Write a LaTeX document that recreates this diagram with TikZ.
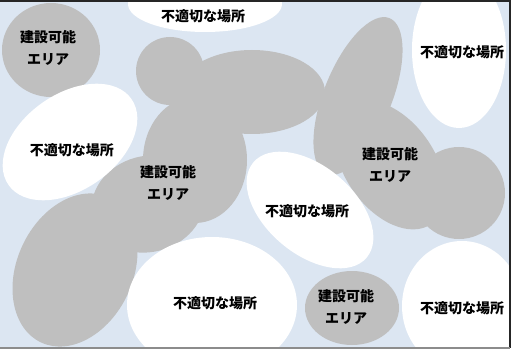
\documentclass[tikz,border=0pt]{standalone}
\usepackage{fontspec}
\newfontfamily\jpfont{Noto Sans CJK JP}
\usetikzlibrary{positioning}
\definecolor{sitecolor}{RGB}{220,230,242}
\definecolor{okcolor}{RGB}{191,191,191}
\tikzset{
    ok area/.style={fill=okcolor},
    ng area/.style={fill=white},
    frame line/.style={line width=1.6pt, black!85},
    area label/.style={font=\jpfont\bfseries\fontsize{14}{22}\selectfont, align=center, inner sep=0pt}
}

\begin{document}
\begin{tikzpicture}[x=1pt, y=-1pt]
    \useasboundingbox (0,0) rectangle (517,350);

    % Site background
    \fill[sitecolor] (0,0) rectangle (510,349);

    \begin{scope}
        \clip (0,0) rectangle (510,349);

        % Buildable areas - gray blobs
        \fill[ok area] (51,50) ellipse (49 and 47);
        \fill[ok area] (170,71) circle (34);
        \fill[ok area] (252,92) ellipse (73 and 42);
        \fill[ok area] (195,160) ellipse (52 and 63);
        \fill[ok area, rotate around={15:(148,204)}] (148,204) ellipse (57 and 48);
        \fill[ok area, rotate around={65:(75,270)}] (75,270) ellipse (80 and 58);
        \fill[ok area, rotate around={68:(358,96)}] (358,96) ellipse (84 and 34);
        \fill[ok area, rotate around={-55:(390,165)}] (390,165) ellipse (72 and 45);
        \fill[ok area] (459,193) circle (46);
        \fill[ok area] (352,308) ellipse (47 and 37);

        % Unsuitable places - white ellipses
        \fill[ng area] (205,4) ellipse (77 and 28);
        \fill[ng area] (459,50) ellipse (47 and 78);
        \fill[ng area, rotate around={35:(70,142)}] (70,142) ellipse (75 and 48);
        \fill[ng area, rotate around={-40:(310,210)}] (310,210) ellipse (74 and 44);
        \fill[ng area] (212,305) ellipse (85 and 68);
        \fill[ng area] (462,306) ellipse (60 and 65);
    \end{scope}

    % Frame
    \draw[frame line] (0,1) -- (510,1) -- (510,348);
    \draw[line width=1.6pt, black!45] (0,348) -- (510,348);

    % Labels - buildable
    \node[area label] (ok1) at (48,48) {建設可能\\エリア};
    \node[area label] (ok2) at (168,183) {建設可能\\エリア};
    \node[area label] (ok3) at (390,165) {建設可能\\エリア};
    \node[area label] (ok4) at (346,307) {建設可能\\エリア};

    % Labels - unsuitable
    \node[area label] (ng1) at (203,16) {不適切な場所};
    \node[area label] (ng2) at (462,52) {不適切な場所};
    \node[area label] (ng3) at (72,150) {不適切な場所};
    \node[area label] (ng4) at (307,211) {不適切な場所};
    \node[area label] (ng5) at (215,303) {不適切な場所};
    \node[area label] (ng6) at (462,308) {不適切な場所};
\end{tikzpicture}
\end{document}
